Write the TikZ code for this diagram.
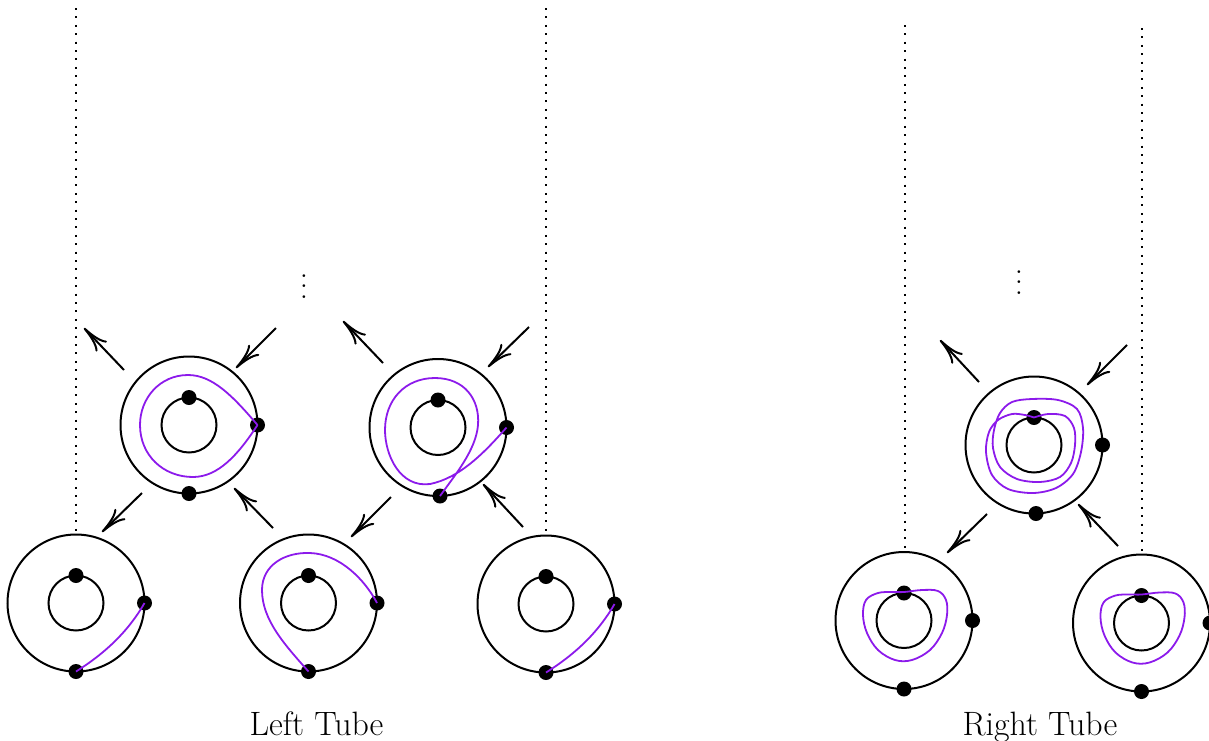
\documentclass[tikz,border=0pt]{standalone}
\usetikzlibrary{arrows.meta}
\definecolor{loopviolet}{RGB}{140,26,235}
\begin{document}
\begin{tikzpicture}[x=0.5pt,y=-0.5pt,
  ring/.style={line width=1pt},
  loopline/.style={draw=loopviolet,line width=0.9pt},
  flow/.style={line width=1pt,-{To[length=13pt,width=7.5pt]}},
  guide/.style={line width=1pt,dash pattern=on 1pt off 3.2pt},
  annulus/.pic={\draw[ring] (0,0) circle[radius=68.5]; \draw[ring] (0,0) circle[radius=27.5];},
  lbl/.style={font=\fontsize{16.9}{20}\selectfont,anchor=base,inner sep=0pt}]
\useasboundingbox (0,0) rectangle (1209,740);

% guide lines
\draw[guide] (76,8) -- (76,531);
\draw[guide] (546,8) -- (546,533);
\draw[guide] (905,25) -- (905,549);
\draw[guide] (1142,28) -- (1142,552);

% annuli
\pic at (76,603) {annulus};
\pic at (308.5,603) {annulus};
\pic at (546,604) {annulus};
\pic at (189,425) {annulus};
\pic at (438,427.5) {annulus};
\pic at (904,620.5) {annulus};
\pic at (1141.5,623) {annulus};
\pic at (1034,445) {annulus};

% marked points
\foreach \p in {(76,575.5),(144.5,603),(76,671.5),
                (308.5,575.5),(377,603),(308.5,671.5),
                (546,576.5),(614.5,604),(546,672.5),
                (189,397.5),(257.5,425),(189,493.5),
                (438,400),(506.5,427.5),(440,496),
                (904,593),(972.5,620.5),(904,689),
                (1141.5,595.5),(1210,623),(1141.5,691.5),
                (1034,417.5),(1102.5,445),(1036,513.5)}
  \fill \p circle[radius=7.5];

% violet curves
\draw[loopline] (76,671.5) .. controls (104,654) and (128,632) .. (144.5,603);
\draw[loopline] (546,672.5) .. controls (574,655) and (598,633) .. (614.5,604);
\draw[loopline] (308.5,671.5) .. controls (285,645) and (262,620) .. (262,590)
  .. controls (262,565) and (285,552) .. (310,553)
  .. controls (340,554) and (365,580) .. (377,603);
\draw[loopline] (257.5,425) .. controls (232,395) and (212,375) .. (188,375)
  .. controls (160,375) and (140,398) .. (140,425)
  .. controls (140,455) and (163,477) .. (193,477)
  .. controls (218,477) and (238,455) .. (257.5,425);
\draw[loopline] (506.5,427.5) .. controls (485,452) and (460,478) .. (430,484)
  .. controls (400,488) and (385,455) .. (385,430)
  .. controls (385,400) and (405,378) .. (435,378)
  .. controls (465,378) and (480,400) .. (478,425)
  .. controls (476,450) and (455,475) .. (440,496);
\draw[loopline] plot[smooth cycle,tension=0.6] coordinates {(904,592) (922,590) (938,591) (946,600) (947,615) (942,633) (930,650) (912,660) (895,660) (878,650) (867,633) (863,615) (866,600) (878,593) (892,592)};
\draw[loopline] plot[smooth cycle,tension=0.6] coordinates {(1141.5,594.5) (1159.5,592.5) (1175.5,593.5) (1183.5,602.5) (1184.5,617.5) (1179.5,635.5) (1167.5,652.5) (1149.5,662.5) (1132.5,662.5) (1115.5,652.5) (1104.5,635.5) (1100.5,617.5) (1103.5,602.5) (1115.5,595.5) (1129.5,594.5)};
\draw[loopline] plot[smooth,tension=0.55] coordinates {(1034,417.5) (1048,414) (1065,416) (1074,428) (1075,445) (1071,463) (1060,477) (1040,482) (1017,479) (1000,467) (993,448) (994,430) (1000,413) (1012,402) (1032,399) (1058,400) (1077,409) (1083,428) (1081,452) (1073,474) (1056,488) (1033,493) (1008,489) (992,475) (986,452) (989,432) (998,420) (1012,414) (1025,415) (1034,417.5)};

% flow arrows
\draw[flow] (124,370) -- (84,328);
\draw[flow] (276,328) -- (236,368);
\draw[flow] (142,493) -- (102,532);
\draw[flow] (273,528) -- (234,488);
\draw[flow] (383,363) -- (343,321);
\draw[flow] (529,327) -- (488,367);
\draw[flow] (391,497) -- (351,537);
\draw[flow] (523,527) -- (483,484);
\draw[flow] (979,382) -- (940,340);
\draw[flow] (1127,345) -- (1087,385);
\draw[flow] (987,514) -- (947,553);
\draw[flow] (1118,546) -- (1078,504);

% dots and labels
\node[anchor=base,scale=1.3,inner sep=0pt] (vl) at (304,298) {$\vdots$};
\node[anchor=base,scale=1.3,inner sep=0pt] (vr) at (1019,294) {$\vdots$};
\node[lbl] (lt) at (316.5,735) {Left Tube};
\node[lbl] (rt) at (1040,735) {Right Tube};
\end{tikzpicture}
\end{document}
